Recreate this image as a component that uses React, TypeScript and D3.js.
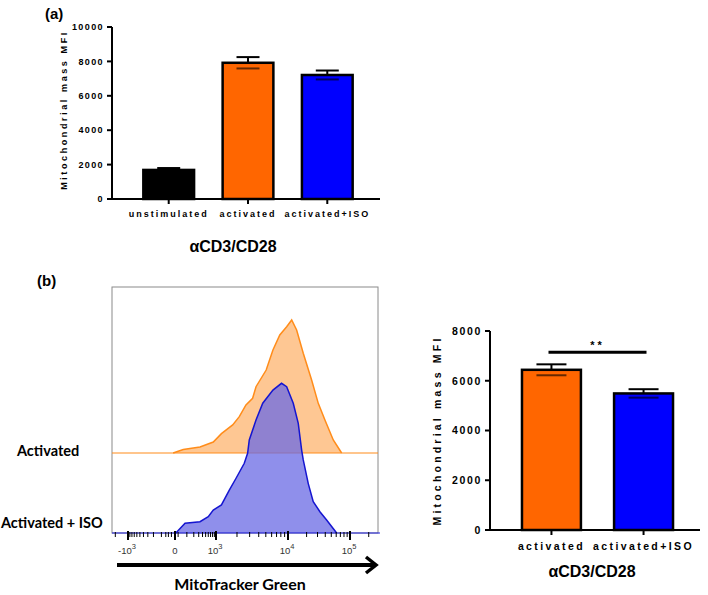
import React from 'react';
import * as d3 from 'd3';

// panel (a): mitochondrial mass, three groups
const catsA = ['unstimulated', 'activated', 'activated+ISO'];
const meanA = [1690, 7920, 7210];
const semA = [110, 330, 260];
const fillA = ['#000000', '#FF6600', '#0000FF'];
const ticksA = [0, 2000, 4000, 6000, 8000, 10000];

// panel (b) right: two groups
const catsB = ['activated', 'activated+ISO'];
const meanB = [6440, 5490];
const semB = [220, 170];
const fillB = ['#FF6600', '#0000FF'];
const ticksB = [0, 2000, 4000, 6000, 8000];

// panel (b) left: MitoTracker Green histograms (intensity, % of mode)
const actMFI = [-10, 62, 331, 838, 1200, 1738, 2154, 2667, 3297, 3672, 5058, 6252, 7743, 9590, 11470, 13800, 17660, 24100, 30840, 39500, 53800, 73400];
const actCount = [0, 2.3, 4, 7.3, 12.9, 18.7, 24.2, 32, 36.5, 44.2, 55.3, 68.7, 78.7, 84.2, 88.7, 82, 66.5, 48.7, 33.1, 22, 8.7, 0];
const isoMFI = [5, 80, 331, 600, 838, 1200, 1564, 1939, 2528, 2811, 2965, 3672, 4540, 6252, 8175, 9590, 12170, 14660, 16630, 17660, 21230, 25590, 32800, 42060, 61000];
const isoCount = [0, 6.5, 7.5, 10.9, 15.3, 18.7, 28.7, 36.5, 46.5, 53.1, 62, 75.3, 86.5, 95.3, 99.8, 97.5, 86.5, 73.1, 55.3, 48.7, 33.1, 20.9, 14.2, 8.7, 0];
const majorTicks = [-1000, 0, 1000, 10000, 100000];
const majorLabels = [['-10', '3'], ['0', ''], ['10', '3'], ['10', '4'], ['10', '5']];
const minorTicks = [-2000, -900, -800, -700, -600, -500, -400, -300, -200, -100, -60, -40, -20, 20, 100, 200, 300, 400, 500, 600, 700, 800, 900,
  2000, 3000, 4000, 5000, 6000, 7000, 8000, 9000, 20000, 30000, 40000, 50000, 60000, 70000, 80000, 90000, 200000];

const prism = '"Liberation Sans", Arial, sans-serif';
const flow = 'Lato, "Open Sans", sans-serif';

// logicle-like transform
const tf = (v: number) => Math.sign(v) * Math.log10(1 + Math.abs(v) / 100);

const BarPanel = ({ cats, mean, sem, fills, ticks, y, x, axisX, fs, ls, capW }: any) => {
  const [x0, x1] = axisX;
  const y0 = y(0);
  const bw = x.bandwidth();
  return (
    <g>
      {cats.map((c: string, i: number) => {
        const bx = x(c);
        const top = y(mean[i]);
        const cx = bx + bw / 2;
        return (
          <g key={c}>
            <line x1={cx} x2={cx} y1={y(mean[i] - sem[i])} y2={y(mean[i] + sem[i])} stroke="#000" strokeWidth={2} />
            <line x1={cx - capW / 2} x2={cx + capW / 2} y1={y(mean[i] + sem[i])} y2={y(mean[i] + sem[i])} stroke="#000" strokeWidth={2} />
            <rect x={bx} y={top} width={bw} height={y0 - top} fill={fills[i]} stroke="#000" strokeWidth={2.5} />
            <line x1={cx - capW / 2} x2={cx + capW / 2} y1={y(mean[i] - sem[i])} y2={y(mean[i] - sem[i])} stroke="#000" strokeWidth={2} opacity={0.6} />
            <line x1={cx} x2={cx} y1={y0} y2={y0 + 5} stroke="#000" strokeWidth={2} />
            <text x={cx} y={y0 + fs + 9} textAnchor="middle" fontFamily={prism} fontWeight="bold" fontSize={fs} letterSpacing={ls}>{c}</text>
          </g>
        );
      })}
      <line x1={x0} x2={x0} y1={y(ticks[ticks.length - 1])} y2={y0} stroke="#000" strokeWidth={2} />
      <line x1={x0 - 1} x2={x1} y1={y0} y2={y0} stroke="#000" strokeWidth={2} />
      {ticks.map((t: number) => (
        <g key={t}>
          <line x1={x0 - 5} x2={x0} y1={y(t)} y2={y(t)} stroke="#000" strokeWidth={2} />
          <text x={x0 - 8} y={y(t) + fs * 0.36} textAnchor="end" fontFamily={prism} fontWeight="bold" fontSize={fs} letterSpacing={ls * 0.7}>{t}</text>
        </g>
      ))}
    </g>
  );
};

export default function App() {
  const yA = d3.scaleLinear().domain([0, 10000]).range([199, 27]);
  const xA = d3.scaleBand().domain(catsA).range([114, 382]).paddingInner(0.36).paddingOuter(0.37);
  const yB = d3.scaleLinear().domain([0, 8000]).range([530, 331]);
  const xB = d3.scaleBand().domain(catsB).range([492.5, 702.5]).paddingInner(0.36).paddingOuter(0.32);

  const xH = d3.scaleLinear().domain(majorTicks.map(tf)).range([128, 175, 216, 288, 350]);
  const hx = (v: number) => xH(tf(v));
  const yAct = d3.scaleLinear().domain([0, 100]).range([453, 303]);
  const yIso = d3.scaleLinear().domain([0, 100]).range([533, 383]);

  const actPts = actMFI.map((m, i) => [m, actCount[i]]);
  const isoPts = isoMFI.map((m, i) => [m, isoCount[i]]);
  const areaAct = d3.area<number[]>().x(d => hx(d[0])).y0(yAct(0)).y1(d => yAct(d[1]));
  const lineAct = d3.line<number[]>().x(d => hx(d[0])).y(d => yAct(d[1]));
  const areaIso = d3.area<number[]>().x(d => hx(d[0])).y0(yIso(0)).y1(d => yIso(d[1]));
  const lineIso = d3.line<number[]>().x(d => hx(d[0])).y(d => yIso(d[1]));

  const box = { l: 112, t: 287, r: 378, b: 533 };
  const sig = [xB('activated')! + xB.bandwidth() * 0.45, xB('activated+ISO')! + xB.bandwidth() * 0.55];
  const sigY = yB(d3.max(meanB.map((m, i) => m + semB[i]))!) - 12;

  return (
    <div style={{ position: 'absolute', left: 0, top: 0 }}>
      <svg width={708} height={595} style={{ display: 'block', background: '#fff' }}>
        {/* panel (a) */}
        <text x={45} y={19} fontFamily={prism} fontWeight="bold" fontSize={15}>(a)</text>
        <text transform={`translate(67,${(yA(0) + yA(10000)) / 2 - 3}) rotate(-90)`} textAnchor="middle" fontFamily={prism} fontWeight="bold" fontSize={9} letterSpacing={2.6}>Mitochondrial mass MFI</text>
        <BarPanel cats={catsA} mean={meanA} sem={semA} fills={fillA} ticks={ticksA} y={yA} x={xA} axisX={[112, 380]} fs={9} ls={2} capW={23} />
        <text x={233} y={252} textAnchor="middle" fontFamily={prism} fontWeight="bold" fontSize={16}>αCD3/CD28</text>

        {/* panel (b) histogram */}
        <text x={37} y={286} fontFamily={prism} fontWeight="bold" fontSize={15}>(b)</text>
        <rect x={box.l} y={box.t} width={box.r - box.l} height={box.b - box.t} fill="none" stroke="#8a8a8a" strokeWidth={1} />
        <path d={areaAct(actPts)!} fill="#FEC793" />
        <line x1={box.l} x2={box.r} y1={yAct(0)} y2={yAct(0)} stroke="#FF8C1A" strokeWidth={1.2} />
        <path d={lineAct(actPts)!} fill="none" stroke="#FF8C1A" strokeWidth={1.5} />
        <path d={areaIso(isoPts)!} fill="#6A6AE4" opacity={0.75} />
        <line x1={box.l} x2={box.r + 2} y1={yIso(0)} y2={yIso(0)} stroke="#2020E0" strokeWidth={1.2} />
        <path d={lineIso(isoPts)!} fill="none" stroke="#1515D0" strokeWidth={1.5} />
        {minorTicks.map(t => (
          <line key={t} x1={hx(t)} x2={hx(t)} y1={box.b - 1} y2={box.b + 4} stroke="#000" strokeWidth={1} />
        ))}
        {majorTicks.map((t, i) => (
          <g key={t}>
            <line x1={hx(t)} x2={hx(t)} y1={box.b - 2} y2={box.b + 7} stroke="#000" strokeWidth={2} />
            <text x={hx(t) + (majorLabels[i][1] ? -1 : 0)} y={554} textAnchor="middle" fontFamily={prism} fontSize={9.5} fill="#333">
              {majorLabels[i][0]}
              {majorLabels[i][1] && <tspan dy={-5} fontSize={7.5}>{majorLabels[i][1]}</tspan>}
            </text>
          </g>
        ))}
        <text x={17} y={456} fontFamily={flow} fontWeight="bold" fontSize={14.5}>Activated</text>
        <text x={1} y={528} fontFamily={flow} fontWeight="bold" fontSize={14.5}>Activated + ISO</text>
        <line x1={117} x2={374} y1={565} y2={565} stroke="#000" strokeWidth={4} />
        <polyline points="366,557 376,565 366,573" fill="none" stroke="#000" strokeWidth={3.5} />
        <text x={240} y={590} textAnchor="middle" fontFamily={flow} fontWeight="bold" fontSize={16}>MitoTracker Green</text>

        {/* panel (b) bars */}
        <text transform={`translate(441,${(yB(0) + yB(8000)) / 2}) rotate(-90)`} textAnchor="middle" fontFamily={prism} fontWeight="bold" fontSize={10.5} letterSpacing={3.2}>Mitochondrial mass MFI</text>
        <BarPanel cats={catsB} mean={meanB} sem={semB} fills={fillB} ticks={ticksB} y={yB} x={xB} axisX={[490, 700]} fs={10.5} ls={2.4} capW={30} />
        <line x1={sig[0]} x2={sig[1]} y1={sigY} y2={sigY} stroke="#000" strokeWidth={3} />
        <text x={(sig[0] + sig[1]) / 2} y={sigY - 3} textAnchor="middle" fontFamily={prism} fontWeight="bold" fontSize={11} letterSpacing={3}>**</text>
        <text x={592} y={577} textAnchor="middle" fontFamily={prism} fontWeight="bold" fontSize={16}>αCD3/CD28</text>
      </svg>
    </div>
  );
}
